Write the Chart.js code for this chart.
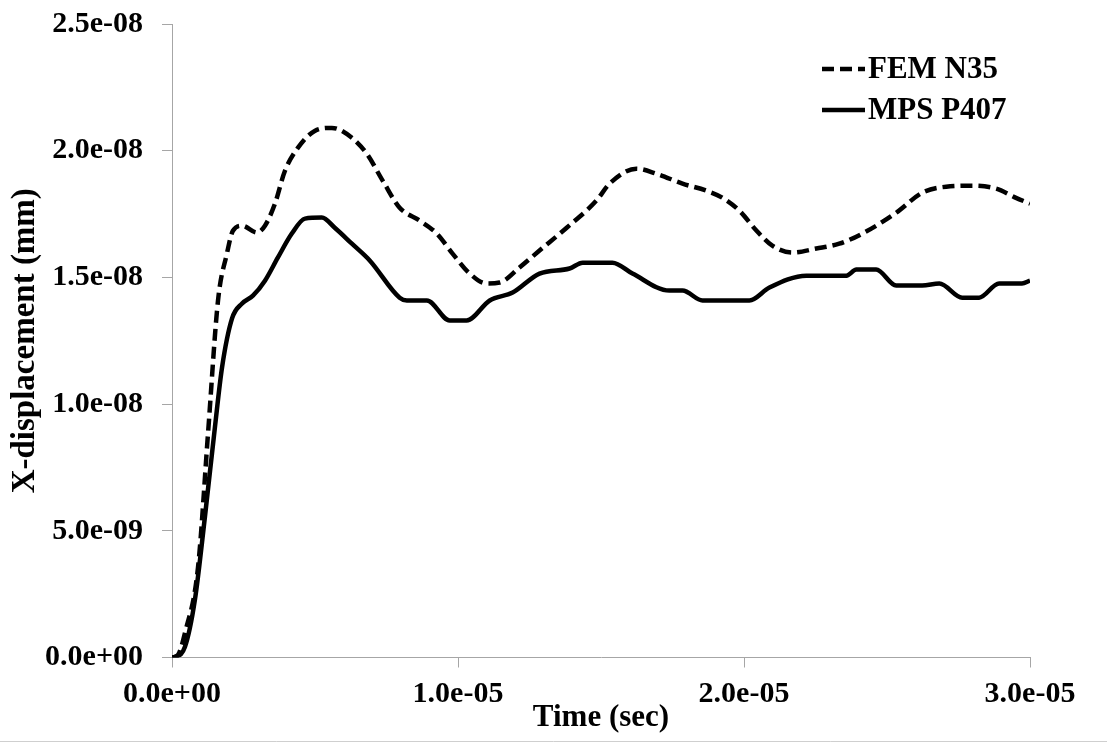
<!DOCTYPE html>
<html>
<head>
<meta charset="utf-8">
<script src="https://cdn.jsdelivr.net/npm/chart.js@4"></script>
<style>
    html, body { margin: 0; padding: 0; background: #ffffff; }
    #wrap { width: 1107px; height: 747px; }
</style>
</head>
<body>
<div id="wrap"><canvas id="dispChart" width="1107" height="747"></canvas></div>
<script>
// Time (sec) and X-displacement (mm)
var femTime = [0, 0.21e-6, 0.45e-6, 0.91e-6, 1.26e-6, 1.61e-6, 1.92e-6, 2.13e-6, 2.45e-6, 2.97e-6,
    3.25e-6, 3.60e-6, 3.95e-6, 4.40e-6, 4.99e-6, 5.59e-6, 6.29e-6, 6.81e-6, 7.37e-6, 7.96e-6,
    8.66e-6, 9.26e-6, 9.81e-6, 10.41e-6, 11.00e-6, 11.46e-6, 12.15e-6, 12.85e-6, 13.80e-6, 14.84e-6,
    15.30e-6, 16.24e-6, 16.94e-6, 17.85e-6, 18.69e-6, 19.25e-6, 19.84e-6, 20.44e-6, 20.99e-6, 21.69e-6,
    22.53e-6, 23.33e-6, 24.14e-6, 25.32e-6, 26.23e-6, 27.07e-6, 27.98e-6, 28.82e-6, 29.51e-6, 30.0e-6];
var femDisp = [0, 0.10e-9, 0.96e-9, 3.56e-9, 8.85e-9, 14.1e-9, 15.94e-9, 16.84e-9, 17.04e-9, 16.77e-9,
    17.04e-9, 17.91e-9, 19.21e-9, 20.11e-9, 20.78e-9, 20.90e-9, 20.51e-9, 19.88e-9, 18.81e-9, 17.75e-9,
    17.24e-9, 16.73e-9, 15.94e-9, 15.15e-9, 14.76e-9, 14.80e-9, 15.39e-9, 16.06e-9, 16.96e-9, 18.03e-9,
    18.70e-9, 19.29e-9, 19.09e-9, 18.70e-9, 18.42e-9, 18.14e-9, 17.63e-9, 16.84e-9, 16.25e-9, 15.98e-9,
    16.14e-9, 16.33e-9, 16.73e-9, 17.55e-9, 18.34e-9, 18.58e-9, 18.62e-9, 18.50e-9, 18.14e-9, 17.91e-9];

var mpsTime = [0, 0.10e-6, 0.45e-6, 0.80e-6, 1.15e-6, 1.50e-6, 1.75e-6, 2.10e-6, 2.45e-6, 2.83e-6,
    3.25e-6, 3.70e-6, 4.19e-6, 4.65e-6, 5.24e-6, 5.69e-6, 6.29e-6, 6.92e-6, 7.96e-6, 8.21e-6,
    8.91e-6, 9.71e-6, 10.30e-6, 11.11e-6, 11.91e-6, 12.85e-6, 13.90e-6, 14.36e-6, 15.40e-6, 16.10e-6,
    17.39e-6, 17.85e-6, 18.55e-6, 20.19e-6, 20.89e-6, 22.18e-6, 23.58e-6, 23.93e-6, 24.62e-6, 25.32e-6,
    26.23e-6, 26.83e-6, 27.63e-6, 28.22e-6, 28.92e-6, 29.72e-6, 30.0e-6];
var mpsDisp = [0, 0.02e-9, 0.41e-9, 2.27e-9, 5.54e-9, 9.08e-9, 11.45e-9, 13.38e-9, 13.97e-9, 14.28e-9,
    14.87e-9, 15.78e-9, 16.73e-9, 17.32e-9, 17.36e-9, 16.96e-9, 16.33e-9, 15.66e-9, 14.20e-9, 14.09e-9,
    14.09e-9, 13.30e-9, 13.30e-9, 14.09e-9, 14.40e-9, 15.15e-9, 15.35e-9, 15.58e-9, 15.58e-9, 15.15e-9,
    14.48e-9, 14.48e-9, 14.09e-9, 14.09e-9, 14.60e-9, 15.07e-9, 15.07e-9, 15.31e-9, 15.31e-9, 14.68e-9,
    14.68e-9, 14.76e-9, 14.20e-9, 14.20e-9, 14.76e-9, 14.76e-9, 14.87e-9];

var seriesNames = ['FEM N35', 'MPS P407'];

var xTickValues = [0, 1.0e-5, 2.0e-5, 3.0e-5];
var xTickLabels = ['0.0e+00', '1.0e-05', '2.0e-05', '3.0e-05'];
var yTickValues = [0, 5.0e-9, 1.0e-8, 1.5e-8, 2.0e-8, 2.5e-8];
var yTickLabels = ['0.0e+00', '5.0e-09', '1.0e-08', '1.5e-08', '2.0e-08', '2.5e-08'];

function toPoints(xs, ys) {
    return xs.map(function (x, i) { return { x: x, y: ys[i] }; });
}

var serifFont = '"Liberation Serif", "Times New Roman", serif';
var axisGrey = '#a6a6a6';

// legend drawn inside the plot, top right
var insideLegend = {
    id: 'insideLegend',
    afterDraw: function (chart) {
        var ctx = chart.ctx;
        var area = chart.chartArea;
        ctx.save();
        chart.data.datasets.forEach(function (ds, i) {
            var y = area.top + 45 + i * 41;
            ctx.beginPath();
            ctx.lineWidth = 4.5;
            ctx.strokeStyle = '#000000';
            ctx.setLineDash(ds.borderDash || []);
            ctx.moveTo(area.right - 208, y);
            ctx.lineTo(area.right - 165, y);
            ctx.stroke();
            ctx.setLineDash([]);
            ctx.fillStyle = '#000000';
            ctx.font = 'bold 31px ' + serifFont;
            ctx.textBaseline = 'middle';
            ctx.textAlign = 'left';
            ctx.fillText(ds.label, area.right - 162, y + 1);
        });
        // thin frame line at the bottom of the picture
        ctx.beginPath();
        ctx.lineWidth = 1;
        ctx.strokeStyle = '#cfcfcf';
        ctx.moveTo(0, 741.5);
        ctx.lineTo(chart.width, 741.5);
        ctx.stroke();
        ctx.restore();
    }
};

var ctx = document.getElementById('dispChart').getContext('2d');
var dispChart = new Chart(ctx, {
    type: 'scatter',
    data: {
        datasets: [{
            label: seriesNames[0],
            data: toPoints(femTime, femDisp),
            showLine: true,
            borderColor: '#000000',
            borderWidth: 4.5,
            borderDash: [12, 6],
            pointRadius: 0,
            cubicInterpolationMode: 'monotone'
        }, {
            label: seriesNames[1],
            data: toPoints(mpsTime, mpsDisp),
            showLine: true,
            borderColor: '#000000',
            borderWidth: 4.5,
            pointRadius: 0,
            cubicInterpolationMode: 'monotone'
        }]
    },
    options: {
        responsive: false,
        animation: false,
        layout: {
            padding: { top: 24, right: 77, bottom: 0, left: 0 }
        },
        plugins: {
            legend: { display: false },
            tooltip: { enabled: false }
        },
        scales: {
            x: {
                type: 'linear',
                min: 0,
                max: 3.0e-5,
                afterBuildTicks: function (scale) {
                    scale.ticks = xTickValues.map(function (v) { return { value: v }; });
                },
                afterFit: function (scale) {
                    scale.height = 89.5;
                    scale.paddingLeft = 0;
                    scale.paddingRight = 0;
                },
                ticks: {
                    color: '#000000',
                    padding: 9,
                    maxRotation: 0,
                    font: { family: serifFont, size: 30, weight: 'bold' },
                    callback: function (value, index) { return xTickLabels[index]; }
                },
                grid: {
                    drawOnChartArea: false,
                    drawTicks: true,
                    tickLength: 10,
                    color: axisGrey
                },
                border: { color: axisGrey, width: 1 },
                title: {
                    display: true,
                    text: 'Time (sec)',
                    color: '#000000',
                    padding: { top: 0, bottom: 10 },
                    font: { family: serifFont, size: 31, weight: 'bold' }
                }
            },
            y: {
                type: 'linear',
                min: 0,
                max: 2.5e-8,
                afterBuildTicks: function (scale) {
                    scale.ticks = yTickValues.map(function (v) { return { value: v }; });
                },
                afterFit: function (scale) {
                    scale.width = 172;
                    scale.paddingTop = 0;
                    scale.paddingBottom = 0;
                },
                ticks: {
                    color: '#000000',
                    padding: 19,
                    font: { family: serifFont, size: 30, weight: 'bold' },
                    callback: function (value, index) { return yTickLabels[index]; }
                },
                grid: {
                    drawOnChartArea: false,
                    drawTicks: true,
                    tickLength: 10,
                    color: axisGrey
                },
                border: { color: axisGrey, width: 1 },
                title: {
                    display: true,
                    text: 'X-displacement (mm)',
                    color: '#000000',
                    padding: { top: 6, bottom: 0 },
                    font: { family: serifFont, size: 33, weight: 'bold' }
                }
            }
        }
    },
    plugins: [insideLegend]
});
</script>
</body>
</html>
